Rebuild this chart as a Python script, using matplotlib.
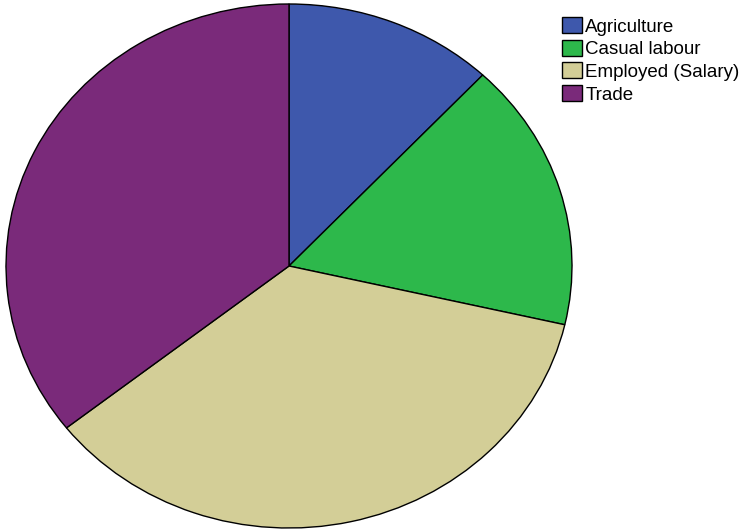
import matplotlib
matplotlib.use("Agg")
import matplotlib.pyplot as plt

categories = ["Agriculture", "Casual labour", "Employed (Salary)", "Trade"]
values = [12.0, 16.6, 35.8, 35.6]
colors = ["#3e58ac", "#2db84b", "#d3ce97", "#7a2a7a"]

plt.rcParams['font.family'] = ['Liberation Sans', 'DejaVu Sans']

W, H = 743, 531
fig = plt.figure(figsize=(W / 100, H / 100), dpi=100)
left, right, top, bottom = 6, 572, 4, 528
ax = fig.add_axes([left / W, (H - bottom) / H, (right - left) / W, (bottom - top) / H])
wedges, _ = ax.pie(values, colors=colors, startangle=90, counterclock=False,
                   wedgeprops=dict(edgecolor="black", linewidth=1.0))
ax.set_aspect('auto')
ax.set_xlim(-1, 1)
ax.set_ylim(-1, 1)
ax.axis('off')

leg = fig.legend(wedges, categories, loc="upper left",
                 bbox_to_anchor=(562 / W, 1 - 17 / H), frameon=False,
                 fontsize=13.5, handlelength=1.05, handleheight=0.95,
                 handletextpad=0.2, labelspacing=0.22, borderpad=0,
                 borderaxespad=0)
fig.savefig("out.png", dpi=100)
